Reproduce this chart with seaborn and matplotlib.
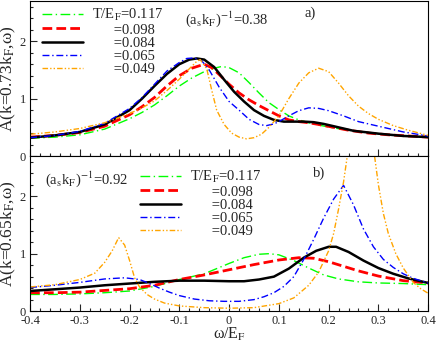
import matplotlib
matplotlib.use("Agg")
import matplotlib.pyplot as plt
import seaborn as sns
from matplotlib.ticker import MultipleLocator, FuncFormatter

# panel a): (a_s k_F)^-1 = 0.38, k = 0.73 k_F
a117_w = [-0.4, -0.35, -0.3, -0.25, -0.2, -0.175, -0.15, -0.125, -0.1, -0.075, -0.05, -0.03, -0.015, 0.0,
          0.02, 0.04, 0.06, 0.08, 0.1, 0.12, 0.14, 0.16, 0.18, 0.21, 0.24, 0.28, 0.32, 0.36, 0.4]
a117_A = [0.31, 0.33, 0.37, 0.47, 0.65, 0.76, 0.89, 1.05, 1.22, 1.36, 1.47, 1.53, 1.56, 1.54,
          1.45, 1.28, 1.10, 0.93, 0.81, 0.70, 0.63, 0.58, 0.54, 0.49, 0.45, 0.41, 0.37, 0.35, 0.33]

a098_w = [-0.4, -0.35, -0.3, -0.25, -0.2, -0.175, -0.15, -0.125, -0.1, -0.075, -0.05, -0.035, -0.02, 0.0,
          0.02, 0.04, 0.06, 0.08, 0.1, 0.12, 0.14, 0.16, 0.18, 0.21, 0.24, 0.28, 0.32, 0.36, 0.4]
a098_A = [0.33, 0.36, 0.41, 0.52, 0.72, 0.86, 1.02, 1.22, 1.40, 1.53, 1.60, 1.54, 1.42, 1.25,
          1.10, 0.98, 0.88, 0.79, 0.70, 0.63, 0.60, 0.58, 0.55, 0.50, 0.45, 0.40, 0.37, 0.35, 0.33]

a084_w = [-0.4, -0.35, -0.3, -0.25, -0.2, -0.175, -0.15, -0.125, -0.1, -0.08, -0.065, -0.05, -0.03, -0.01,
          0.01, 0.03, 0.05, 0.07, 0.09, 0.11, 0.13, 0.15, 0.17, 0.19, 0.22, 0.25, 0.3, 0.35, 0.4]
a084_A = [0.32, 0.36, 0.42, 0.55, 0.80, 1.00, 1.22, 1.43, 1.60, 1.68, 1.70, 1.68, 1.55, 1.33,
          1.12, 0.95, 0.80, 0.70, 0.63, 0.60, 0.60, 0.60, 0.59, 0.56, 0.50, 0.44, 0.39, 0.35, 0.33]

a065_w = [-0.4, -0.35, -0.3, -0.25, -0.2, -0.175, -0.15, -0.125, -0.1, -0.085, -0.07, -0.055, -0.04, -0.02,
          0.0, 0.02, 0.04, 0.06, 0.075, 0.09, 0.1, 0.12, 0.14, 0.16, 0.18, 0.2, 0.23, 0.26, 0.3, 0.35, 0.4]
a065_A = [0.32, 0.36, 0.43, 0.57, 0.83, 1.02, 1.25, 1.48, 1.63, 1.70, 1.71, 1.66, 1.50, 1.20,
          0.95, 0.80, 0.64, 0.55, 0.53, 0.56, 0.60, 0.70, 0.79, 0.84, 0.83, 0.79, 0.70, 0.60, 0.52, 0.42, 0.35]

a049_w = [-0.4, -0.35, -0.3, -0.25, -0.2, -0.175, -0.15, -0.125, -0.1, -0.08, -0.065, -0.058, -0.045,
          -0.035, -0.025, -0.01, 0.005, 0.02, 0.035, 0.05, 0.065, 0.08, 0.1, 0.12, 0.14, 0.16, 0.18,
          0.2, 0.22, 0.24, 0.26, 0.28, 0.3, 0.33, 0.36, 0.4]
a049_A = [0.38, 0.42, 0.48, 0.58, 0.74, 0.84, 0.96, 1.14, 1.34, 1.52, 1.65, 1.68, 1.52,
          1.15, 0.80, 0.55, 0.40, 0.33, 0.30, 0.32, 0.38, 0.50, 0.70, 1.00, 1.27, 1.45, 1.53,
          1.47, 1.27, 1.05, 0.87, 0.74, 0.64, 0.53, 0.45, 0.36]

# panel b): (a_s k_F)^-1 = 0.92, k = 0.65 k_F
b117_w = [-0.4, -0.35, -0.3, -0.25, -0.2, -0.15, -0.1, -0.05, 0.0, 0.03, 0.06, 0.08, 0.1, 0.13,
          0.16, 0.19, 0.22, 0.26, 0.3, 0.35, 0.4]
b117_A = [0.29, 0.29, 0.30, 0.32, 0.35, 0.43, 0.55, 0.65, 0.83, 0.93, 0.99, 1.00, 0.98, 0.88,
          0.75, 0.63, 0.56, 0.51, 0.49, 0.48, 0.46]

b098_w = [-0.4, -0.35, -0.3, -0.25, -0.2, -0.15, -0.1, -0.05, 0.0, 0.05, 0.1, 0.14, 0.17, 0.2,
          0.23, 0.26, 0.3, 0.35, 0.4]
b098_A = [0.32, 0.32, 0.33, 0.36, 0.39, 0.45, 0.55, 0.63, 0.72, 0.81, 0.89, 0.93, 0.92, 0.86,
          0.78, 0.70, 0.61, 0.53, 0.49]

b084_w = [-0.4, -0.35, -0.3, -0.25, -0.2, -0.15, -0.1, -0.05, 0.0, 0.03, 0.06, 0.09, 0.12, 0.15,
          0.175, 0.2, 0.215, 0.24, 0.27, 0.3, 0.33, 0.36, 0.4]
b084_A = [0.35, 0.38, 0.41, 0.45, 0.48, 0.51, 0.53, 0.53, 0.52, 0.52, 0.55, 0.60, 0.74, 0.93,
          1.05, 1.12, 1.12, 1.03, 0.88, 0.75, 0.65, 0.57, 0.49]

b065_w = [-0.4, -0.35, -0.3, -0.25, -0.21, -0.18, -0.16, -0.14, -0.12, -0.1, -0.07, -0.04, -0.01,
          0.02, 0.05, 0.07, 0.09, 0.11, 0.13, 0.15, 0.17, 0.19, 0.21, 0.23, 0.25, 0.27, 0.29,
          0.31, 0.33, 0.35, 0.37, 0.4]
b065_A = [0.41, 0.45, 0.50, 0.56, 0.58, 0.55, 0.48, 0.40, 0.33, 0.27, 0.21, 0.18, 0.17,
          0.17, 0.20, 0.25, 0.32, 0.43, 0.60, 0.90, 1.25, 1.62, 1.95, 2.19, 1.85, 1.43, 1.12,
          0.90, 0.76, 0.65, 0.57, 0.49]

b049_w = [-0.4, -0.35, -0.3, -0.27, -0.25, -0.235, -0.222, -0.21, -0.2, -0.19, -0.18, -0.165, -0.15,
          -0.13, -0.1, -0.05, 0.0, 0.05, 0.1, 0.13, 0.16, 0.18, 0.2, 0.21, 0.22, 0.23, 0.24,
          0.255, 0.265, 0.275, 0.29, 0.3, 0.31, 0.32, 0.335, 0.35, 0.37, 0.385, 0.4]
b049_A = [0.42, 0.46, 0.55, 0.66, 0.85, 1.05, 1.28, 1.15, 0.88, 0.58, 0.42, 0.29, 0.21,
          0.14, 0.09, 0.06, 0.05, 0.06, 0.13, 0.23, 0.45, 0.68, 1.05, 1.35, 1.78, 2.25, 2.85,
          3.8, 4.2, 3.8, 2.85, 2.2, 1.70, 1.35, 1.0, 0.75, 0.50, 0.39, 0.31]

temps = ["0.117", "0.098", "0.084", "0.065", "0.049"]
colors = ["#00ff00", "#ff0000", "#000000", "#0000ff", "#ffa500"]
styles = [(0, (7, 2.5, 1, 2.5)), (0, (3.5, 1.5)), "-", (0, (5, 2, 1, 2)), (0, (4, 1.5, 1, 1.5, 1, 1.5))]
widths = [1.0, 2.0, 1.8, 1.0, 1.0]

sns.set_theme(style="ticks")
plt.rcParams["font.family"] = ["Liberation Serif", "DejaVu Serif"]
plt.rcParams["mathtext.fontset"] = "stix"
plt.rcParams["axes.unicode_minus"] = False

fig, (ax1, ax2) = plt.subplots(2, 1, sharex=True, figsize=(4.36, 3.43), dpi=100)
fig.subplots_adjust(left=0.069, right=0.982, top=0.997, bottom=0.093, hspace=0)

labels = ["T/E$_\\mathrm{F}$=" + temps[0]] + ["      =" + t for t in temps[1:]]

panels = [
    (ax1, [(a117_w, a117_A), (a098_w, a098_A), (a084_w, a084_A), (a065_w, a065_A), (a049_w, a049_A)]),
    (ax2, [(b117_w, b117_A), (b098_w, b098_A), (b084_w, b084_A), (b065_w, b065_A), (b049_w, b049_A)]),
]
for ax, series in panels:
    for (w, A), c, ls, lw, lab in zip(series, colors, styles, widths, labels):
        sns.lineplot(x=w, y=A, ax=ax, color=c, linestyle=ls, linewidth=lw, label=lab,
                     estimator=None, sort=False)
    ax.set_xlim(-0.4, 0.4)
    ax.set_ylim(0, 2.7)
    ax.xaxis.set_major_locator(MultipleLocator(0.1))
    ax.xaxis.set_minor_locator(MultipleLocator(0.02))
    ax.yaxis.set_major_locator(MultipleLocator(1))
    ax.yaxis.set_minor_locator(MultipleLocator(0.2))
    ax.tick_params(which="both", direction="in", top=False, right=False, labelsize=9)
    ax.tick_params(axis="y", pad=3)
    ax.tick_params(axis="x", pad=3)
    ax.tick_params(which="major", length=5, width=0.8)
    ax.tick_params(which="minor", length=2.5, width=0.8)
    for sp in ax.spines.values():
        sp.set_visible(True)
        sp.set_linewidth(0.8)
        sp.set_color("black")

ax2.xaxis.set_major_formatter(FuncFormatter(lambda v, p: "0" if abs(v) < 1e-9 else f"{v:.1f}"))

leg_kw = dict(loc="upper left", frameon=False, fontsize=10.5, handlelength=2.8, handletextpad=0.6,
              labelspacing=0.0, borderpad=0, borderaxespad=0)
ax1.legend(bbox_to_anchor=(0.03, 0.96), **leg_kw)
ax2.legend(bbox_to_anchor=(0.276, 0.915), **leg_kw)

ax1.set_ylabel("A(k=0.73k$_\\mathrm{F}$,ω)", fontsize=12.5, labelpad=1)
ax2.set_ylabel("A(k=0.65k$_\\mathrm{F}$,ω)", fontsize=12.5, labelpad=1)
ax2.set_xlabel("ω/E$_\\mathrm{F}$", fontsize=11.5, labelpad=-1)
ax1.set_xlabel("")

ax1.text(0.39, 0.885, "(a$_\\mathrm{s}$k$_\\mathrm{F}$)$^{-1}$=0.38", transform=ax1.transAxes,
         fontsize=10.5, va="center")
ax1.text(0.69, 0.92, "a)", transform=ax1.transAxes, fontsize=10.5, va="center")
ax2.text(0.038, 0.85, "(a$_\\mathrm{s}$k$_\\mathrm{F}$)$^{-1}$=0.92", transform=ax2.transAxes,
         fontsize=10.5, va="center")
ax2.text(0.71, 0.89, "b)", transform=ax2.transAxes, fontsize=10.5, va="center")

fig.savefig("out.png", dpi=100)
